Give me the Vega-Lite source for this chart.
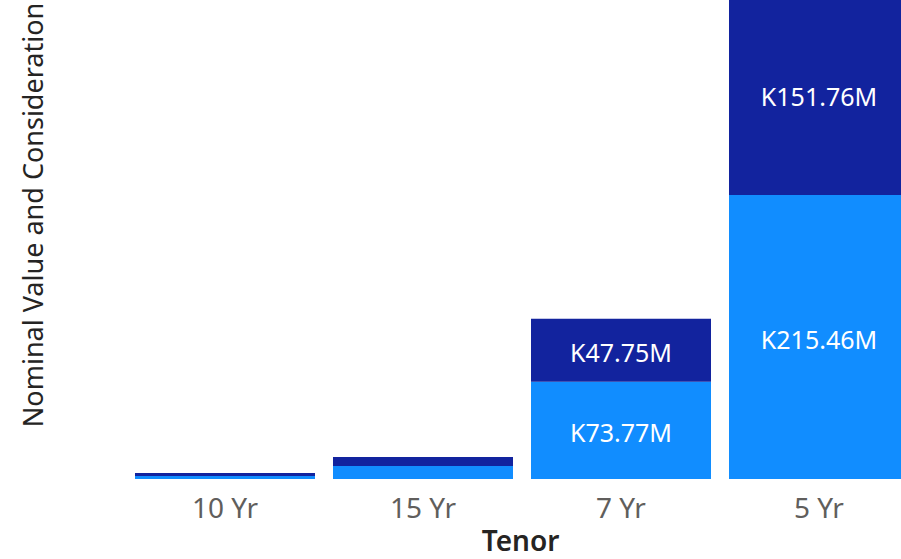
{
  "$schema": "https://vega.github.io/schema/vega-lite/v6.json",
  "width": 775,
  "height": 479,
  "autosize": {"type": "none"},
  "padding": {"left": 126, "top": 0, "right": 0, "bottom": 80},
  "config": {
    "view": {"stroke": null},
    "locale": {"number": {"decimal": ".", "thousands": ",", "grouping": [3], "currency": ["K", "M"]}}
  },
  "data": {
    "values": [
      {"tenor": "10 Yr", "series": "Nominal Value", "value": 2.3},
      {"tenor": "10 Yr", "series": "Consideration", "value": 2.3},
      {"tenor": "15 Yr", "series": "Nominal Value", "value": 9.9},
      {"tenor": "15 Yr", "series": "Consideration", "value": 6.8},
      {"tenor": "7 Yr", "series": "Nominal Value", "value": 73.77},
      {"tenor": "7 Yr", "series": "Consideration", "value": 47.75},
      {"tenor": "5 Yr", "series": "Nominal Value", "value": 215.46},
      {"tenor": "5 Yr", "series": "Consideration", "value": 151.76}
    ]
  },
  "encoding": {
    "x": {
      "field": "tenor",
      "type": "nominal",
      "sort": ["10 Yr", "15 Yr", "7 Yr", "5 Yr"],
      "scale": {"range": [0, 792], "paddingInner": 0.0909, "paddingOuter": 0.04545},
      "axis": {
        "title": "Tenor",
        "labelAngle": 0,
        "ticks": false,
        "tickSize": 0,
        "domain": false,
        "labelFont": "Noto Sans",
        "labelFontSize": 28,
        "labelColor": "#605E5C",
        "labelBaseline": "alphabetic",
        "labelPadding": 38,
        "titleFont": "Noto Sans",
        "titleFontSize": 28,
        "titleFontWeight": 600,
        "titleColor": "#252423",
        "titleBaseline": "alphabetic",
        "titleAlign": "center",
        "titleX": 394,
        "titleY": 71
      }
    }
  },
  "layer": [
    {
      "mark": {"type": "bar", "clip": true},
      "encoding": {
        "y": {
          "field": "value",
          "type": "quantitative",
          "stack": "zero",
          "scale": {"domain": [0, 363.4], "nice": false},
          "axis": {
            "title": "Nominal Value and Consideration",
            "labels": false,
            "ticks": false,
            "domain": false,
            "grid": false,
            "titleFont": "Noto Sans",
            "titleFontSize": 27,
            "titleFontWeight": "normal",
            "titleColor": "#252423",
            "titleAngle": 270,
            "titleAlign": "center",
            "titleBaseline": "alphabetic",
            "titleX": -84,
            "titleY": 214.5
          }
        },
        "color": {
          "field": "series",
          "type": "nominal",
          "scale": {"domain": ["Nominal Value", "Consideration"], "range": ["#118DFF", "#12239E"]},
          "legend": null
        },
        "order": {"field": "series", "sort": "descending"}
      }
    },
    {
      "transform": [{"filter": "datum.value > 20"}],
      "mark": {"type": "text", "color": "#FFFFFF", "font": "Noto Sans", "fontSize": 25, "baseline": "middle", "align": "center", "dy": 3.5},
      "encoding": {
        "y": {"field": "value", "type": "quantitative", "stack": "zero", "bandPosition": 0.5},
        "detail": {"field": "series"},
        "order": {"field": "series", "sort": "descending"},
        "text": {"field": "value", "type": "quantitative", "format": "$.2f"}
      }
    }
  ]
}
